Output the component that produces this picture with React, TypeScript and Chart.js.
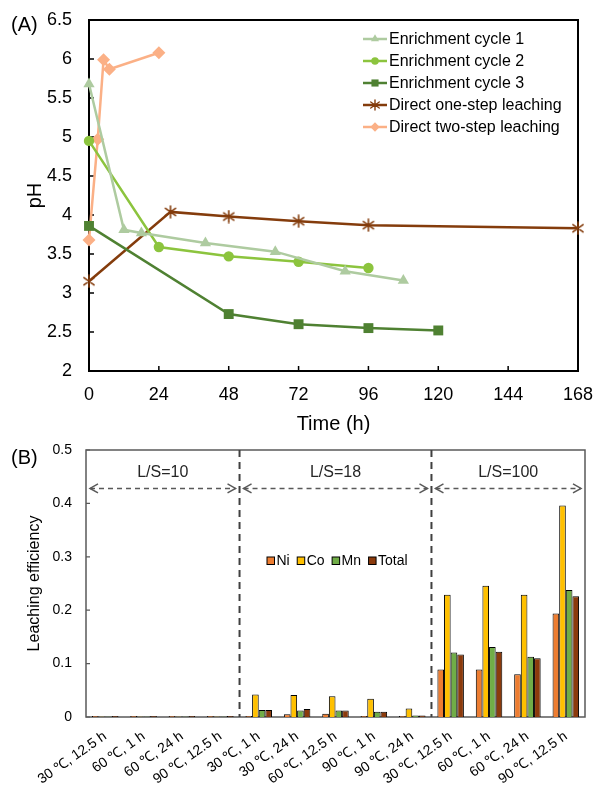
import React, { useEffect, useRef } from 'react';
import { Chart, registerables } from 'chart.js';
import { drawPoint } from 'chart.js/helpers';

Chart.register(...registerables);

const FONT = '"Liberation Sans", Arial, Helvetica, sans-serif';
Chart.defaults.font.family = FONT;
Chart.defaults.color = '#000';

// ---------- Panel (A): pH vs time ----------
const cycle1Time = [0, 12, 18, 40, 64, 88, 108];
const cycle1PH = [5.68, 3.81, 3.77, 3.64, 3.53, 3.28, 3.16];
const cycle2Time = [0, 24, 48, 72, 96];
const cycle2PH = [4.95, 3.59, 3.47, 3.4, 3.32];
const cycle3Time = [0, 48, 72, 96, 120];
const cycle3PH = [3.86, 2.73, 2.6, 2.55, 2.52];
const oneStepTime = [0, 28, 48, 72, 96, 168];
const oneStepPH = [3.15, 4.04, 3.98, 3.92, 3.87, 3.83];
const twoStepTime = [0, 3, 5, 7, 24];
const twoStepPH = [3.68, 4.97, 5.99, 5.87, 6.08];
const seriesNamesA = [
  'Enrichment cycle 1',
  'Enrichment cycle 2',
  'Enrichment cycle 3',
  'Direct one-step leaching',
  'Direct two-step leaching',
];

// ---------- Panel (B): leaching efficiency ----------
const conditions = [
  '30 ℃, 12.5 h', '60 ℃, 1 h', '60 ℃, 24 h', '90 ℃, 12.5 h',
  '30 ℃, 1 h', '30 ℃, 24 h', '60 ℃, 12.5 h', '90 ℃, 1 h', '90 ℃, 24 h',
  '30 ℃, 12.5 h', '60 ℃, 1 h', '60 ℃, 24 h', '90 ℃, 12.5 h',
];
const niValues = [0.002, 0.002, 0.002, 0.002, 0.002, 0.005, 0.006, 0.002, 0.002, 0.089, 0.089, 0.080, 0.194];
const coValues = [0.001, 0.001, 0.001, 0.001, 0.042, 0.041, 0.039, 0.034, 0.016, 0.229, 0.246, 0.229, 0.396];
const mnValues = [0.001, 0.001, 0.001, 0.001, 0.013, 0.012, 0.012, 0.010, 0.003, 0.121, 0.131, 0.113, 0.238];
const totalValues = [0.002, 0.002, 0.002, 0.002, 0.013, 0.015, 0.012, 0.010, 0.003, 0.117, 0.122, 0.110, 0.226];
const elementNames = ['Ni', 'Co', 'Mn', 'Total'];
const lsGroupNames = ['L/S=10', 'L/S=18', 'L/S=100'];
const lsGroupSizes = [4, 5, 4];

function zip(xs: number[], ys: number[]) {
  return xs.map((x, i) => ({ x, y: ys[i] }));
}

function makeAsterisk(color: string, size: number, lw: number) {
  const c = document.createElement('canvas');
  c.width = size;
  c.height = size;
  const ctx = c.getContext('2d')!;
  ctx.strokeStyle = color;
  ctx.lineWidth = lw;
  ctx.lineCap = 'round';
  const m = size / 2;
  const r = size / 2 - 1;
  ctx.beginPath();
  ctx.moveTo(m, m - r);
  ctx.lineTo(m, m + r);
  ctx.moveTo(m - r * 0.85, m - r * 0.6);
  ctx.lineTo(m + r * 0.85, m + r * 0.6);
  ctx.moveTo(m - r * 0.85, m + r * 0.6);
  ctx.lineTo(m + r * 0.85, m - r * 0.6);
  ctx.stroke();
  return c;
}

const colorsA = ['#AECBA0', '#8CC43E', '#4F8132', '#843C0C', '#FBB086'];
const stylesA = ['triangle', 'circle', 'rect', 'asterisk', 'rectRot'];
const radiiA = [6.5, 5.2, 7, 6, 6.5];

const noPad = (s: any) => {
  s.paddingTop = 0;
  s.paddingBottom = 0;
  s.paddingLeft = 0;
  s.paddingRight = 0;
};

const panelAPlugin = {
  id: 'panelA',
  beforeDatasetsDraw(chart: any) {
    const { ctx, chartArea: a, scales } = chart;
    ctx.save();
    ctx.strokeStyle = '#000';
    ctx.lineWidth = 1.5;
    ctx.beginPath();
    scales.x.ticks.forEach((t: any) => {
      const px = scales.x.getPixelForValue(t.value);
      ctx.moveTo(px, a.bottom);
      ctx.lineTo(px, a.bottom - 5);
    });
    scales.y.ticks.forEach((t: any) => {
      const py = scales.y.getPixelForValue(t.value);
      ctx.moveTo(a.left, py);
      ctx.lineTo(a.left + 5, py);
    });
    ctx.stroke();
    ctx.lineWidth = 2;
    ctx.strokeRect(a.left, a.top, a.right - a.left, a.bottom - a.top);
    ctx.restore();
  },
  afterDraw(chart: any) {
    const { ctx, chartArea: a } = chart;
    ctx.save();
    ctx.fillStyle = '#000';
    ctx.font = `20px ${FONT}`;
    ctx.textAlign = 'left';
    ctx.textBaseline = 'middle';
    ctx.fillText('(A)', 11, 25);
    // legend
    const x0 = a.right - 215;
    chart.data.datasets.forEach((ds: any, i: number) => {
      const y = a.top + 19 + 22 * i;
      ctx.strokeStyle = ds.borderColor;
      ctx.lineWidth = 2.5;
      ctx.beginPath();
      ctx.moveTo(x0, y);
      ctx.lineTo(x0 + 24, y);
      ctx.stroke();
      ctx.fillStyle = ds.pointBackgroundColor;
      ctx.strokeStyle = ds.pointBorderColor;
      ctx.lineWidth = 1;
      drawPoint(ctx, { pointStyle: ds.legendStyle, rotation: 0, radius: ds.legendRadius, borderWidth: 0 } as any, x0 + 12, y);
      ctx.fillStyle = '#000';
      ctx.font = `16px ${FONT}`;
      ctx.textBaseline = 'middle';
      ctx.fillText(ds.label, x0 + 26, y + 1);
    });
    ctx.restore();
  },
};

const panelBPlugin = {
  id: 'panelB',
  beforeDatasetsDraw(chart: any) {
    const { ctx, chartArea: a, scales } = chart;
    ctx.save();
    ctx.strokeStyle = '#595959';
    ctx.lineWidth = 1.2;
    ctx.beginPath();
    scales.y.ticks.forEach((t: any) => {
      const py = scales.y.getPixelForValue(t.value);
      ctx.moveTo(a.left, py);
      ctx.lineTo(a.left + 4, py);
    });
    ctx.stroke();
    ctx.lineWidth = 1.5;
    ctx.strokeRect(a.left, a.top, a.right - a.left, a.bottom - a.top);
    // dashed separators
    ctx.strokeStyle = '#404040';
    ctx.lineWidth = 2;
    ctx.setLineDash([7, 5]);
    let acc = 0;
    for (let g = 0; g < lsGroupSizes.length - 1; g++) {
      acc += lsGroupSizes[g];
      const px = scales.x.getPixelForValue(acc - 0.5);
      ctx.beginPath();
      ctx.moveTo(px, a.top);
      ctx.lineTo(px, a.bottom);
      ctx.stroke();
    }
    ctx.restore();
  },
  afterDraw(chart: any) {
    const { ctx, chartArea: a, scales } = chart;
    ctx.save();
    ctx.fillStyle = '#000';
    ctx.font = `20px ${FONT}`;
    ctx.textAlign = 'left';
    ctx.textBaseline = 'middle';
    ctx.fillText('(B)', 11, 18);
    // group arrows and labels
    let start = 0;
    const yArrow = scales.y.getPixelForValue(0.428);
    const yText = scales.y.getPixelForValue(0.457);
    lsGroupSizes.forEach((n, g) => {
      const x1 = scales.x.getPixelForValue(start - 0.5) + 4;
      const x2 = scales.x.getPixelForValue(start + n - 0.5) - 4;
      start += n;
      ctx.strokeStyle = '#595959';
      ctx.lineWidth = 1.5;
      ctx.setLineDash([5, 4]);
      ctx.beginPath();
      ctx.moveTo(x1, yArrow);
      ctx.lineTo(x2, yArrow);
      ctx.stroke();
      ctx.setLineDash([]);
      ctx.beginPath();
      ctx.moveTo(x1 + 8, yArrow - 4.5);
      ctx.lineTo(x1, yArrow);
      ctx.lineTo(x1 + 8, yArrow + 4.5);
      ctx.moveTo(x2 - 8, yArrow - 4.5);
      ctx.lineTo(x2, yArrow);
      ctx.lineTo(x2 - 8, yArrow + 4.5);
      ctx.stroke();
      ctx.fillStyle = '#262626';
      ctx.font = `16px ${FONT}`;
      ctx.textAlign = 'center';
      ctx.fillText(lsGroupNames[g], (x1 + x2) / 2, yText);
    });
    // legend
    let lx = a.left + 181;
    const ly = a.top + 111;
    ctx.font = `14px ${FONT}`;
    ctx.textAlign = 'left';
    ctx.textBaseline = 'middle';
    chart.data.datasets.forEach((ds: any) => {
      ctx.fillStyle = ds.backgroundColor;
      ctx.fillRect(lx, ly - 4, 7.5, 7.5);
      ctx.strokeStyle = '#000';
      ctx.lineWidth = 1;
      ctx.strokeRect(lx, ly - 4, 7.5, 7.5);
      ctx.fillStyle = '#000';
      ctx.fillText(ds.label, lx + 9.5, ly);
      lx += 9.5 + ctx.measureText(ds.label).width + 7.5;
    });
    ctx.restore();
  },
};

export default function App() {
  const refA = useRef<HTMLCanvasElement>(null);
  const refB = useRef<HTMLCanvasElement>(null);

  useEffect(() => {
    const times = [cycle1Time, cycle2Time, cycle3Time, oneStepTime, twoStepTime];
    const phs = [cycle1PH, cycle2PH, cycle3PH, oneStepPH, twoStepPH];
    const asterisk = makeAsterisk(colorsA[3], 14, 1.6);
    const asteriskSmall = makeAsterisk(colorsA[3], 12, 1.4);
    const datasetsA = seriesNamesA.map((name, i) => ({
      label: name,
      data: zip(times[i], phs[i]),
      borderColor: colorsA[i],
      backgroundColor: colorsA[i],
      pointBackgroundColor: colorsA[i],
      pointBorderColor: colorsA[i],
      pointStyle: stylesA[i] === 'asterisk' ? asterisk : stylesA[i],
      legendStyle: stylesA[i] === 'asterisk' ? asteriskSmall : stylesA[i],
      legendRadius: radiiA[i] * 0.72,
      pointRadius: radiiA[i],
      pointBorderWidth: 0,
      borderWidth: 2.5,
      tension: 0,
      clip: false,
    }));

    const chartA = new Chart(refA.current!, {
      type: 'line',
      data: { datasets: datasetsA as any },
      options: {
        animation: false,
        responsive: false,
        devicePixelRatio: 1,
        layout: { padding: { top: 20, right: 16, left: 0, bottom: 0 } },
        plugins: { legend: { display: false }, tooltip: { enabled: false } },
        scales: {
          x: {
            type: 'linear',
            min: 0,
            max: 168,
            ticks: { stepSize: 24, font: { size: 18 }, color: '#000', padding: 13 },
            grid: { display: false, drawTicks: false },
            border: { display: false },
            title: { display: true, text: 'Time (h)', font: { size: 20 }, color: '#000', padding: { top: 0, bottom: 4 } },
            afterFit: (s: any) => { s.height = 69; noPad(s); },
          },
          y: {
            min: 2,
            max: 6.5,
            ticks: { stepSize: 0.5, font: { size: 18 }, color: '#000', padding: 17, callback: (v: any) => String(v) },
            grid: { display: false, drawTicks: false },
            border: { display: false },
            title: { display: true, text: 'pH', font: { size: 20 }, color: '#000', padding: { top: 23, bottom: 0 } },
            afterFit: (s: any) => { s.width = 89; noPad(s); },
          },
        },
      },
      plugins: [panelAPlugin],
    });

    const chartB = new Chart(refB.current!, {
      type: 'bar',
      data: {
        labels: conditions,
        datasets: [
          { label: elementNames[0], data: niValues, backgroundColor: '#ED7D31' },
          { label: elementNames[1], data: coValues, backgroundColor: '#FFC000' },
          { label: elementNames[2], data: mnValues, backgroundColor: '#70AD47' },
          { label: elementNames[3], data: totalValues, backgroundColor: '#8B3A0C' },
        ].map((d) => ({ ...d, borderColor: '#000', borderWidth: 1, categoryPercentage: 0.69, barPercentage: 1.0 })),
      },
      options: {
        animation: false,
        responsive: false,
        devicePixelRatio: 1,
        layout: { padding: { top: 10, right: 9, left: 0, bottom: 0 } },
        plugins: { legend: { display: false }, tooltip: { enabled: false } },
        scales: {
          x: {
            ticks: { minRotation: 35, maxRotation: 35, font: { size: 14 }, color: '#000', padding: 11 },
            grid: { display: false, drawTicks: false },
            border: { display: false },
            afterFit: (s: any) => { s.height = 73; noPad(s); },
          },
          y: {
            min: 0,
            max: 0.5,
            ticks: { stepSize: 0.1, font: { size: 14 }, color: '#000', padding: 14, callback: (v: any) => String(Number(Number(v).toFixed(1))) },
            grid: { display: false, drawTicks: false },
            border: { display: false },
            title: { display: true, text: 'Leaching efficiency', font: { size: 16 }, color: '#000', padding: { top: 25, bottom: 0 } },
            afterFit: (s: any) => { s.width = 86; noPad(s); },
          },
        },
      },
      plugins: [panelBPlugin],
    });

    return () => {
      chartA.destroy();
      chartB.destroy();
    };
  }, []);

  return (
    <div style={{ position: 'absolute', left: 0, top: 0, width: 594, height: 790, background: '#fff' }}>
      <canvas ref={refA} width={594} height={440} style={{ position: 'absolute', left: 0, top: 0, width: 594, height: 440 }} />
      <canvas ref={refB} width={594} height={350} style={{ position: 'absolute', left: 0, top: 440, width: 594, height: 350 }} />
    </div>
  );
}
